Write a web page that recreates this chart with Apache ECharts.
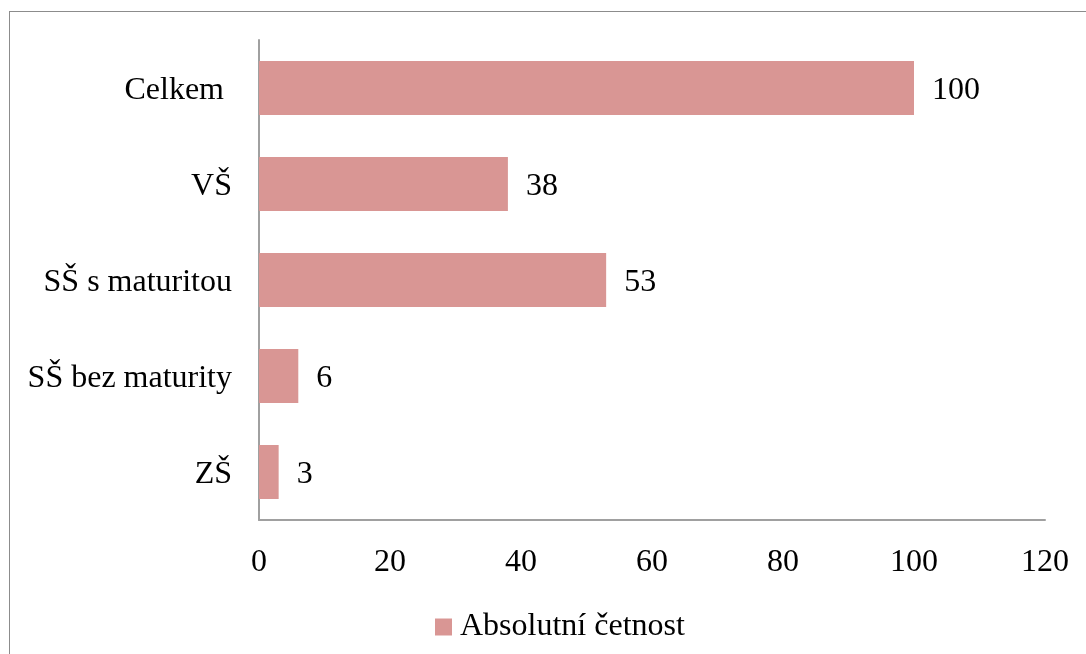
<!DOCTYPE html>
<html>
<head>
<meta charset="utf-8">
<script src="https://cdn.jsdelivr.net/npm/echarts@6/dist/echarts.min.js"></script>
<style>
  html, body { margin: 0; padding: 0; background: #fff; overflow: hidden; }
  #frame { position: absolute; left: 9px; top: 11px; width: 1090px; height: 660px; border: 1.5px solid #8c8c8c; box-sizing: border-box; }
  #chart { position: absolute; left: 0; top: 0; width: 1086px; height: 654px; }
</style>
</head>
<body>
<div id="frame"></div>
<div id="chart"></div>
<script>
// Education level categories (bottom to top) and absolute counts
const categories = ['ZŠ', 'SŠ bez maturity', 'SŠ s maturitou', 'VŠ', 'Celkem '];
const counts = [3, 6, 53, 38, 100];
const seriesName = 'Absolutní četnost';
const xTicks = { min: 0, max: 120, interval: 20 };

const font = '"Liberation Serif", "Times New Roman", serif';
const fontSize = 32;
const chart = echarts.init(document.getElementById('chart'), null, { renderer: 'canvas' });
chart.setOption({
  animation: false,
  grid: { left: 259, right: 41, top: 40, bottom: 134, containLabel: false },
  legend: {
    top: 606, left: 430,
    itemWidth: 17, itemHeight: 17, itemGap: 8,
    icon: 'rect',
    textStyle: { fontFamily: font, fontSize: fontSize, color: '#000', padding: [0, 0, 0, 3] },
    data: [seriesName]
  },
  xAxis: {
    type: 'value', min: xTicks.min, max: xTicks.max, interval: xTicks.interval,
    axisLine: { show: true, lineStyle: { color: '#a0a0a0', width: 2 } },
    axisTick: { show: false },
    splitLine: { show: false },
    axisLabel: { fontFamily: font, fontSize: fontSize, color: '#000', margin: 27 }
  },
  yAxis: {
    type: 'category', data: categories,
    axisLine: { show: true, lineStyle: { color: '#a0a0a0', width: 2 } },
    axisTick: { show: false },
    axisLabel: {
      margin: 27,
      formatter: v => '{c|' + v + '}',
      rich: { c: { fontFamily: font, fontSize: fontSize, color: '#000', padding: [6, 0, 0, 0] } }
    }
  },
  series: [{
    name: seriesName, type: 'bar', data: counts, barWidth: 54,
    itemStyle: { color: '#d99694' },
    label: { show: true, position: 'right', distance: 18, offset: [0, 3], fontFamily: font, fontSize: fontSize, color: '#000' }
  }]
});
</script>
</body>
</html>
